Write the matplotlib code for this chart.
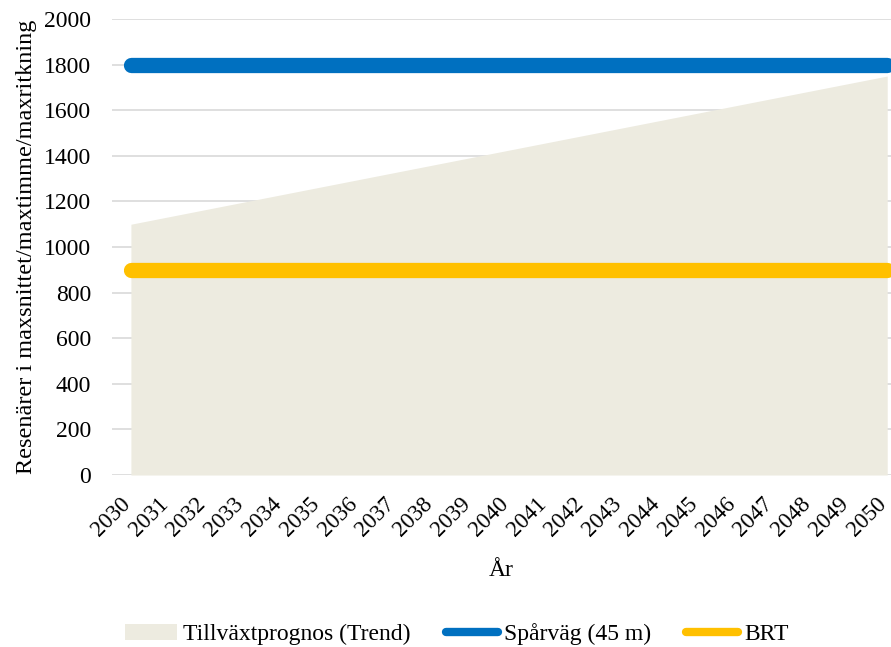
import numpy as np
import matplotlib.pyplot as plt
import matplotlib.transforms as mtransforms
from matplotlib.patches import Patch
from matplotlib.lines import Line2D

plt.rcParams['font.family'] = ['Liberation Serif', 'DejaVu Serif']

years = np.arange(2030, 2051)
trend = np.linspace(1100, 1750, len(years))  # linear growth forecast 1100 -> 1750
tram_capacity = [1800] * len(years)
brt_capacity = [900] * len(years)

area_color = '#EDEBE0'
tram_color = '#0070C0'
brt_color = '#FFC000'

fig = plt.figure(figsize=(8.91, 6.47), dpi=100)
ax = fig.add_axes([0.1257, 0.2658, 0.8743, 0.7048])

ax.fill_between(years, 0, trend, color=area_color, linewidth=0, zorder=2)
ax.plot(years, tram_capacity, color=tram_color, linewidth=11, solid_capstyle='round', zorder=3)
ax.plot(years, brt_capacity, color=brt_color, linewidth=11, solid_capstyle='round', zorder=3)

ax.set_xlim(2029.5, 2050.1)
ax.set_ylim(0, 2000)
ax.set_yticks(np.arange(0, 2001, 200))
ax.set_xticks(years)
ax.set_xticklabels([str(y) for y in years], rotation=45, ha='right', va='bottom',
                   rotation_mode='anchor')
ax.grid(axis='y', color='#D9D9D9', linewidth=1.2, zorder=1)
ax.set_axisbelow(True)
ax.tick_params(length=0, labelsize=17, colors='black')
ax.tick_params(axis='x', pad=24, labelsize=16.5)
ax.tick_params(axis='y', pad=15)
for s in ax.spines.values():
    s.set_visible(False)

# nudge rotated year labels so their ends sit under the ticks
shift = mtransforms.ScaledTranslation(2.5 / 72, 0, fig.dpi_scale_trans)
for lbl in ax.get_xticklabels():
    lbl.set_transform(lbl.get_transform() + shift)

ax.set_xlabel('År', fontsize=17, labelpad=14)
ax.set_ylabel('Resenärer i maxsnittet/maxtimme/maxritkning', fontsize=17.5, labelpad=5)

handles = [
    Patch(facecolor=area_color, edgecolor='none'),
    Line2D([0], [0], color=tram_color, linewidth=6, solid_capstyle='round'),
    Line2D([0], [0], color=brt_color, linewidth=6, solid_capstyle='round'),
]
labels = ['Tillväxtprognos (Trend)', 'Spårväg (45 m)', 'BRT']
fig.legend(handles, labels, loc='center', bbox_to_anchor=(0.513, 0.02), ncol=3,
           frameon=False, fontsize=17, handlelength=2.2, handletextpad=0.25,
           columnspacing=1.5)

fig.savefig('out.png', dpi=100)
